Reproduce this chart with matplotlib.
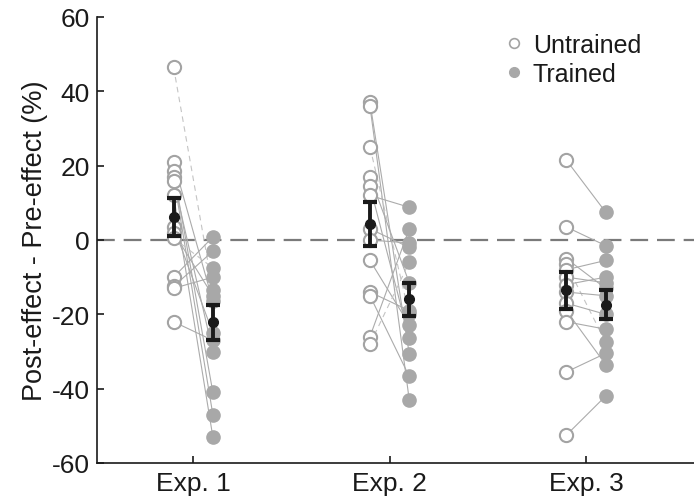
import numpy as np
import matplotlib
matplotlib.use("Agg")
import matplotlib.pyplot as plt
from matplotlib.lines import Line2D

plt.rcParams['font.family'] = ['Liberation Sans', 'DejaVu Sans']

experiments = ["Exp. 1", "Exp. 2", "Exp. 3"]

exp1_untrained = [46.5, 21.0, 18.5, 17.0, 16.0, 12.0, 3.5, 2.0, 0.5, -10.0, -12.5, -13.0, -22.0]
exp1_trained   = [-13.5, -16.5, -41.0, -47.0, -30.0, -53.0, -25.0, -15.0, -7.5, 0.8, -3.0, -10.0, -27.0]
exp1_dashed    = [True, False, False, False, False, False, False, False, True, False, False, False, False]

exp2_untrained = [37.0, 36.0, 25.0, 17.0, 14.5, 12.0, 3.0, 0.0, -5.5, -14.0, -15.0, -26.0, -28.0]
exp2_trained   = [-30.6, -43.0, -20.0, -11.5, -26.4, 8.8, -2.0, -0.8, -22.8, -19.0, -36.7, 3.0, -6.0]
exp2_dashed    = [False, False, True, False, False, False, False, False, False, False, False, False, True]

exp3_untrained = [21.5, 3.5, -5.0, -6.5, -8.0, -10.0, -12.0, -14.0, -17.0, -19.0, -22.0, -35.5, -52.5]
exp3_trained   = [7.5, -1.5, -13.0, -27.5, -5.5, -11.5, -10.0, -15.0, -20.0, -33.5, -24.0, -30.5, -42.0]
exp3_dashed    = [False, False, False, True, False, False, False, False, False, False, False, False, False]

untrained = [exp1_untrained, exp2_untrained, exp3_untrained]
trained = [exp1_trained, exp2_trained, exp3_trained]
dashed = [exp1_dashed, exp2_dashed, exp3_dashed]

yticks = [-60, -40, -20, 0, 20, 40, 60]

W, H = 694, 502
fig = plt.figure(figsize=(W / 100, H / 100), dpi=100)
ax = fig.add_axes([97 / W, (H - 464) / H, (W - 97) / W, (464 - 18) / H])

off = 0.1
grey_open = '#a3a3a3'
grey_fill = '#a8a8a8'

ax.axhline(0, color='#7a7a7a', lw=1.6, dashes=(8, 4), zorder=1)

for i in range(3):
    xc = i + 1
    u = np.array(untrained[i])
    t = np.array(trained[i])
    for uu, tt, d in zip(u, t, dashed[i]):
        if d:
            ax.plot([xc - off, xc + off], [uu, tt], color='#c4c4c4', lw=0.8,
                    dashes=(5, 4), zorder=2)
        else:
            ax.plot([xc - off, xc + off], [uu, tt], color='#ababab', lw=0.8, zorder=2)
    ax.plot(np.full(len(u), xc - off), u, 'o', ms=9.5, mfc='white', mec=grey_open,
            mew=1.5, zorder=3)
    ax.plot(np.full(len(t), xc + off), t, 'o', ms=9.5, mfc=grey_fill, mec=grey_fill,
            mew=1.0, zorder=3)
    for vals, xx in ((u, xc - off), (t, xc + off)):
        m = vals.mean()
        se = vals.std(ddof=1) / np.sqrt(len(vals))
        ax.errorbar(xx, m, yerr=se, fmt='o', color='#1a1a1a', ms=7, elinewidth=2.8,
                    capsize=5, capthick=3, zorder=5)

ax.set_xlim(0.51, 3.55)
ax.set_ylim(-60, 60)
ax.set_xticks([1, 2, 3])
ax.set_xticklabels(experiments)
ax.set_yticks(yticks)
ax.set_yticklabels([str(v) for v in yticks])
ax.tick_params(direction='in', length=5, width=1.2, labelsize=19, pad=5, colors='#1a1a1a')
ax.tick_params(axis='x', pad=6)
for s in ['top', 'right']:
    ax.spines[s].set_visible(False)
for s in ['left', 'bottom']:
    ax.spines[s].set_linewidth(1.2)
    ax.spines[s].set_color('#1a1a1a')
ax.set_ylabel('Post-effect - Pre-effect (%)', fontsize=19.5, color='#1a1a1a', labelpad=3)

handles = [Line2D([], [], ls='none', marker='o', ms=7, mfc='white', mec=grey_open, mew=1.2),
           Line2D([], [], ls='none', marker='o', ms=7, mfc=grey_fill, mec=grey_fill)]
leg = fig.legend(handles, ['Untrained', 'Trained'], loc='upper left',
                 bbox_to_anchor=(489 / W, 1 - 24 / H), frameon=False, fontsize=18,
                 handletextpad=0.15, labelspacing=0.2, borderaxespad=0, handlelength=1.2)
for txt in leg.get_texts():
    txt.set_color('#1a1a1a')

fig.savefig('out.png', dpi=100)
